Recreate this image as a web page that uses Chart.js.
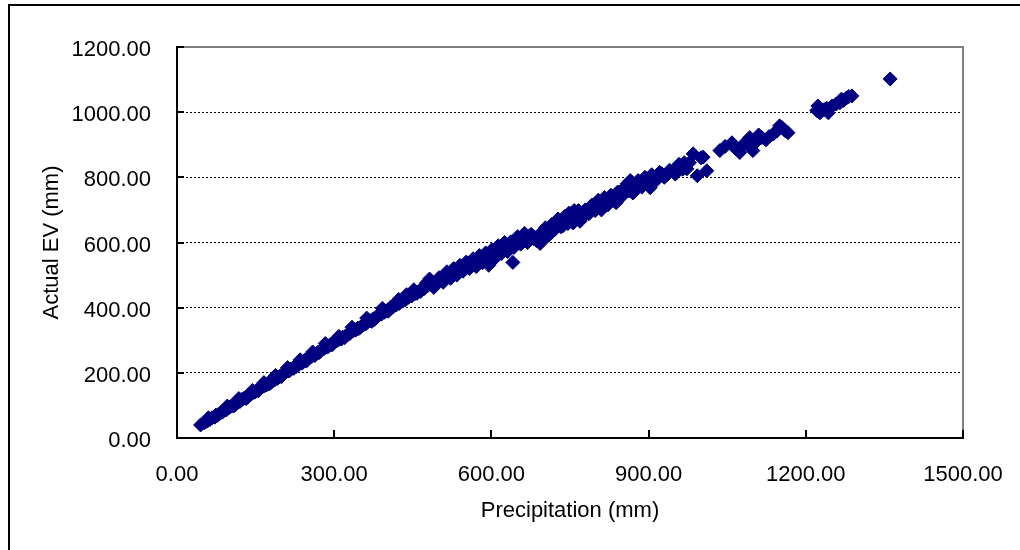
<!DOCTYPE html>
<html>
<head>
<meta charset="utf-8">
<script src="https://cdn.jsdelivr.net/npm/chart.js@4/dist/chart.umd.min.js"></script>
<style>
  html, body { margin: 0; padding: 0; background: #fff; }
  #wrap { width: 1020px; height: 550px; }
</style>
</head>
<body>
<div id="wrap"><canvas id="chart" width="1020" height="550"></canvas></div>
<script>
// x: precipitation (mm), y: actual EV (mm)
var precipitation = [
  45, 52, 58, 63, 67, 72, 78, 82, 86, 90, 94, 98, 102, 105, 109, 113, 116, 120, 124, 127,
  131, 134, 138, 141, 145, 149, 152, 156, 160, 163, 167, 171, 175, 178, 182, 186, 190, 193, 197, 201,
  205, 209, 213, 217, 221, 225, 229, 233, 237, 241, 245, 249, 253, 257, 261, 265, 269, 273, 277, 281,
  285, 290, 294, 298, 303, 307, 312, 316, 321, 326, 330, 335, 340, 345, 350, 355, 360, 365, 370, 375,
  380, 385, 390, 396, 401, 407, 413, 418, 424, 430, 436, 442, 448, 454, 460, 466, 472, 478,
  55, 76, 88, 100, 112, 122, 136, 147, 158, 169, 180, 192, 203, 215, 227, 239, 251, 263, 275, 288,
  300, 314, 328, 342, 357, 372, 388, 403, 420, 433, 445, 458, 470,
  60, 74, 96, 108, 118, 132, 144, 155, 166, 176, 188, 199, 211, 223, 235, 247, 259, 271, 283, 296,
  309, 320, 334, 347, 362, 377, 392, 408, 423, 438, 452, 465, 476,
  485, 492, 498, 505, 512, 518, 524, 530, 536, 542, 548, 554, 560, 566, 572, 578, 584, 590, 596, 602,
  608, 614, 620, 626, 632, 641, 646, 652, 660, 666, 672, 680, 686, 693, 700, 706, 712, 718, 724, 730,
  735, 737, 744, 748, 750, 756, 758, 762, 769, 776, 782, 790, 795, 801, 806, 812, 818, 825, 832, 838,
  845, 852, 859, 865, 870, 876, 884, 890, 897, 903, 910, 918, 925, 935, 947, 955, 962, 968, 973, 985,
  993, 1004, 1011,
  482, 490, 500, 508, 515, 522, 528, 534, 540, 546, 552, 558, 565, 571, 577, 583, 589, 595, 601, 607,
  613, 619, 625, 631, 637, 643, 650, 656, 663, 669, 676, 683, 690, 697, 703, 709, 715, 721, 727, 733,
  740, 746, 753, 760, 766, 773, 779, 786, 792, 798, 804, 810, 816, 822, 828, 835, 841, 848, 855, 862,
  868, 874, 880, 887, 893, 900, 906, 914, 921, 930, 940, 951, 958, 965, 978, 1000,
  1036, 1046, 1059, 1066, 1074, 1080, 1086, 1093, 1099, 1106, 1110, 1116, 1124, 1130, 1138, 1145, 1150, 1155, 1160, 1166,
  1221, 1223, 1227, 1235, 1240, 1243, 1250, 1258, 1265, 1268, 1272, 1278, 1282, 1288, 1361
];
var actualEv = [
  40, 47, 52, 57, 62, 64, 71, 76, 79, 85, 86, 92, 96, 99, 102, 106, 110, 112, 118, 121,
  124, 128, 131, 134, 139, 141, 146, 149, 153, 157, 160, 163, 170, 172, 176, 178, 184, 187, 190, 195,
  198, 204, 206, 211, 214, 220, 223, 226, 232, 235, 240, 242, 247, 250, 256, 258, 263, 266, 272, 275,
  279, 283, 288, 291, 297, 300, 305, 309, 312, 318, 321, 328, 331, 337, 340, 347, 350, 357, 360, 366,
  370, 377, 380, 386, 391, 396, 403, 408, 413, 420, 424, 432, 436, 443, 448, 455, 459, 467,
  50, 68, 82, 95, 103, 117, 127, 142, 150, 164, 171, 183, 199, 207, 219, 230, 246, 253, 268, 280,
  296, 304, 322, 333, 349, 358, 383, 389, 411, 425, 438, 444, 463,
  62, 70, 98, 98, 121, 121, 146, 145, 170, 166, 192, 188, 216, 214, 240, 236, 264, 262, 290, 286,
  312, 308, 340, 336, 368, 364, 398, 402, 425, 440, 455, 450, 476,
  470, 476, 484, 488, 495, 498, 503, 508, 514, 520, 524, 528, 532, 538, 535, 546, 550, 556, 548, 560,
  570, 578, 584, 580, 590, 539, 600, 606, 615, 610, 620, 612, 606, 597, 630, 640, 636, 648, 655, 660,
  668, 652, 667, 690, 672, 660, 698, 676, 665, 680, 690, 700, 712, 720, 706, 718, 728, 735, 740, 722,
  752, 760, 780, 790, 752, 770, 775, 782, 795, 768, 800, 805, 811, 808, 818, 820, 835, 845, 826, 872,
  805, 862, 820,
  488, 462, 492, 478, 510, 490, 520, 500, 530, 512, 540, 520, 550, 526, 560, 538, 568, 530, 578, 552,
  590, 566, 600, 572, 602, 585, 618, 595, 628, 600, 625, 615, 622, 610, 645, 622, 655, 640, 672, 648,
  680, 658, 690, 670, 698, 676, 700, 688, 715, 698, 730, 700, 738, 715, 745, 728, 755, 740, 770, 758,
  785, 762, 790, 770, 800, 780, 808, 790, 815, 800, 822, 810, 840, 825, 845, 860,
  882, 895, 906, 888, 876, 900, 905, 922, 882, 910, 930, 922, 915, 925, 933, 942, 958, 952, 944, 937,
  1005, 1019, 998, 1008, 1012, 998, 1019, 1025, 1029, 1040, 1036, 1044, 1048, 1050, 1102
];
var xTicks = [0, 300, 600, 900, 1200, 1500];
var yTicks = [0, 200, 400, 600, 800, 1000, 1200];

var points = precipitation.map(function(x, i) {
  return { x: x, y: actualEv[i] };
});

var fontFamily = '"Liberation Sans", Arial, sans-serif';

var framePlugin = {
  id: 'frame',
  beforeDraw: function(chart) {
    var ctx = chart.ctx;
    ctx.save();
    ctx.fillStyle = '#ffffff';
    ctx.fillRect(0, 0, chart.width, chart.height);
    // outer box (only left and top edges are visible)
    ctx.fillStyle = '#000000';
    ctx.fillRect(8, 4, 2, chart.height - 4);
    ctx.fillRect(8, 4, chart.width - 8, 2);
    ctx.restore();
  },
  beforeDatasetsDraw: function(chart) {
    var ctx = chart.ctx,
        a = chart.chartArea,
        xs = chart.scales.x,
        ys = chart.scales.y;
    ctx.save();
    // gray top and right edges of the plot area
    ctx.strokeStyle = '#808080';
    ctx.lineWidth = 2;
    ctx.beginPath();
    ctx.moveTo(a.left, a.top);
    ctx.lineTo(a.right, a.top);
    ctx.lineTo(a.right, a.bottom);
    ctx.stroke();
    // inward tick marks
    ctx.strokeStyle = '#000000';
    ctx.lineWidth = 2;
    ctx.beginPath();
    xTicks.forEach(function(v) {
      var px = Math.round(xs.getPixelForValue(v));
      ctx.moveTo(px, a.bottom);
      ctx.lineTo(px, a.bottom - 8);
    });
    yTicks.forEach(function(v) {
      var py = Math.round(ys.getPixelForValue(v));
      ctx.moveTo(a.left, py);
      ctx.lineTo(a.left + 7, py);
    });
    ctx.stroke();
    ctx.restore();
  }
};

new Chart(document.getElementById('chart'), {
  type: 'scatter',
  data: {
    datasets: [{
      label: 'Actual EV',
      data: points,
      pointStyle: 'rectRot',
      pointRadius: 7,
      pointHoverRadius: 7,
      pointBorderWidth: 1,
      backgroundColor: '#000080',
      borderColor: '#000080'
    }]
  },
  options: {
    responsive: false,
    animation: false,
    events: [],
    layout: {
      padding: { left: 0, top: 47, right: 57, bottom: 0 }
    },
    plugins: {
      legend: { display: false },
      tooltip: { enabled: false }
    },
    scales: {
      x: {
        type: 'linear',
        min: 0,
        max: 1500,
        afterBuildTicks: function(scale) {
          scale.ticks = xTicks.map(function(v) { return { value: v }; });
        },
        afterFit: function(scale) {
          scale.height = 112;
          scale.paddingLeft = 0;
          scale.paddingRight = 0;
        },
        grid: { display: false, drawTicks: false },
        border: { display: true, color: '#000000', width: 2 },
        ticks: {
          padding: 24,
          color: '#000000',
          font: { family: fontFamily, size: 22 },
          callback: function(v) { return Number(v).toFixed(2); }
        },
        title: {
          display: true,
          text: 'Precipitation (mm)',
          color: '#000000',
          font: { family: fontFamily, size: 22 },
          padding: { top: 0, bottom: 26 }
        }
      },
      y: {
        type: 'linear',
        min: 0,
        max: 1200,
        afterBuildTicks: function(scale) {
          scale.ticks = yTicks.map(function(v) { return { value: v }; });
        },
        afterFit: function(scale) {
          scale.width = 177;
          scale.paddingTop = 0;
          scale.paddingBottom = 0;
        },
        grid: {
          drawTicks: false,
          lineWidth: 1,
          color: function(ctx) {
            var v = ctx.tick ? ctx.tick.value : null;
            return (v === 0 || v === 1200) ? 'rgba(0,0,0,0)' : '#000000';
          }
        },
        border: { display: true, color: '#000000', width: 2, dash: [2, 2] },
        ticks: {
          padding: 26,
          labelOffset: 3,
          color: '#000000',
          font: { family: fontFamily, size: 22 },
          callback: function(v) { return Number(v).toFixed(2); }
        },
        title: {
          display: true,
          text: 'Actual EV (mm)',
          color: '#000000',
          font: { family: fontFamily, size: 22 },
          padding: { top: 39, bottom: 0 }
        }
      }
    }
  },
  plugins: [framePlugin]
});
</script>
</body>
</html>
